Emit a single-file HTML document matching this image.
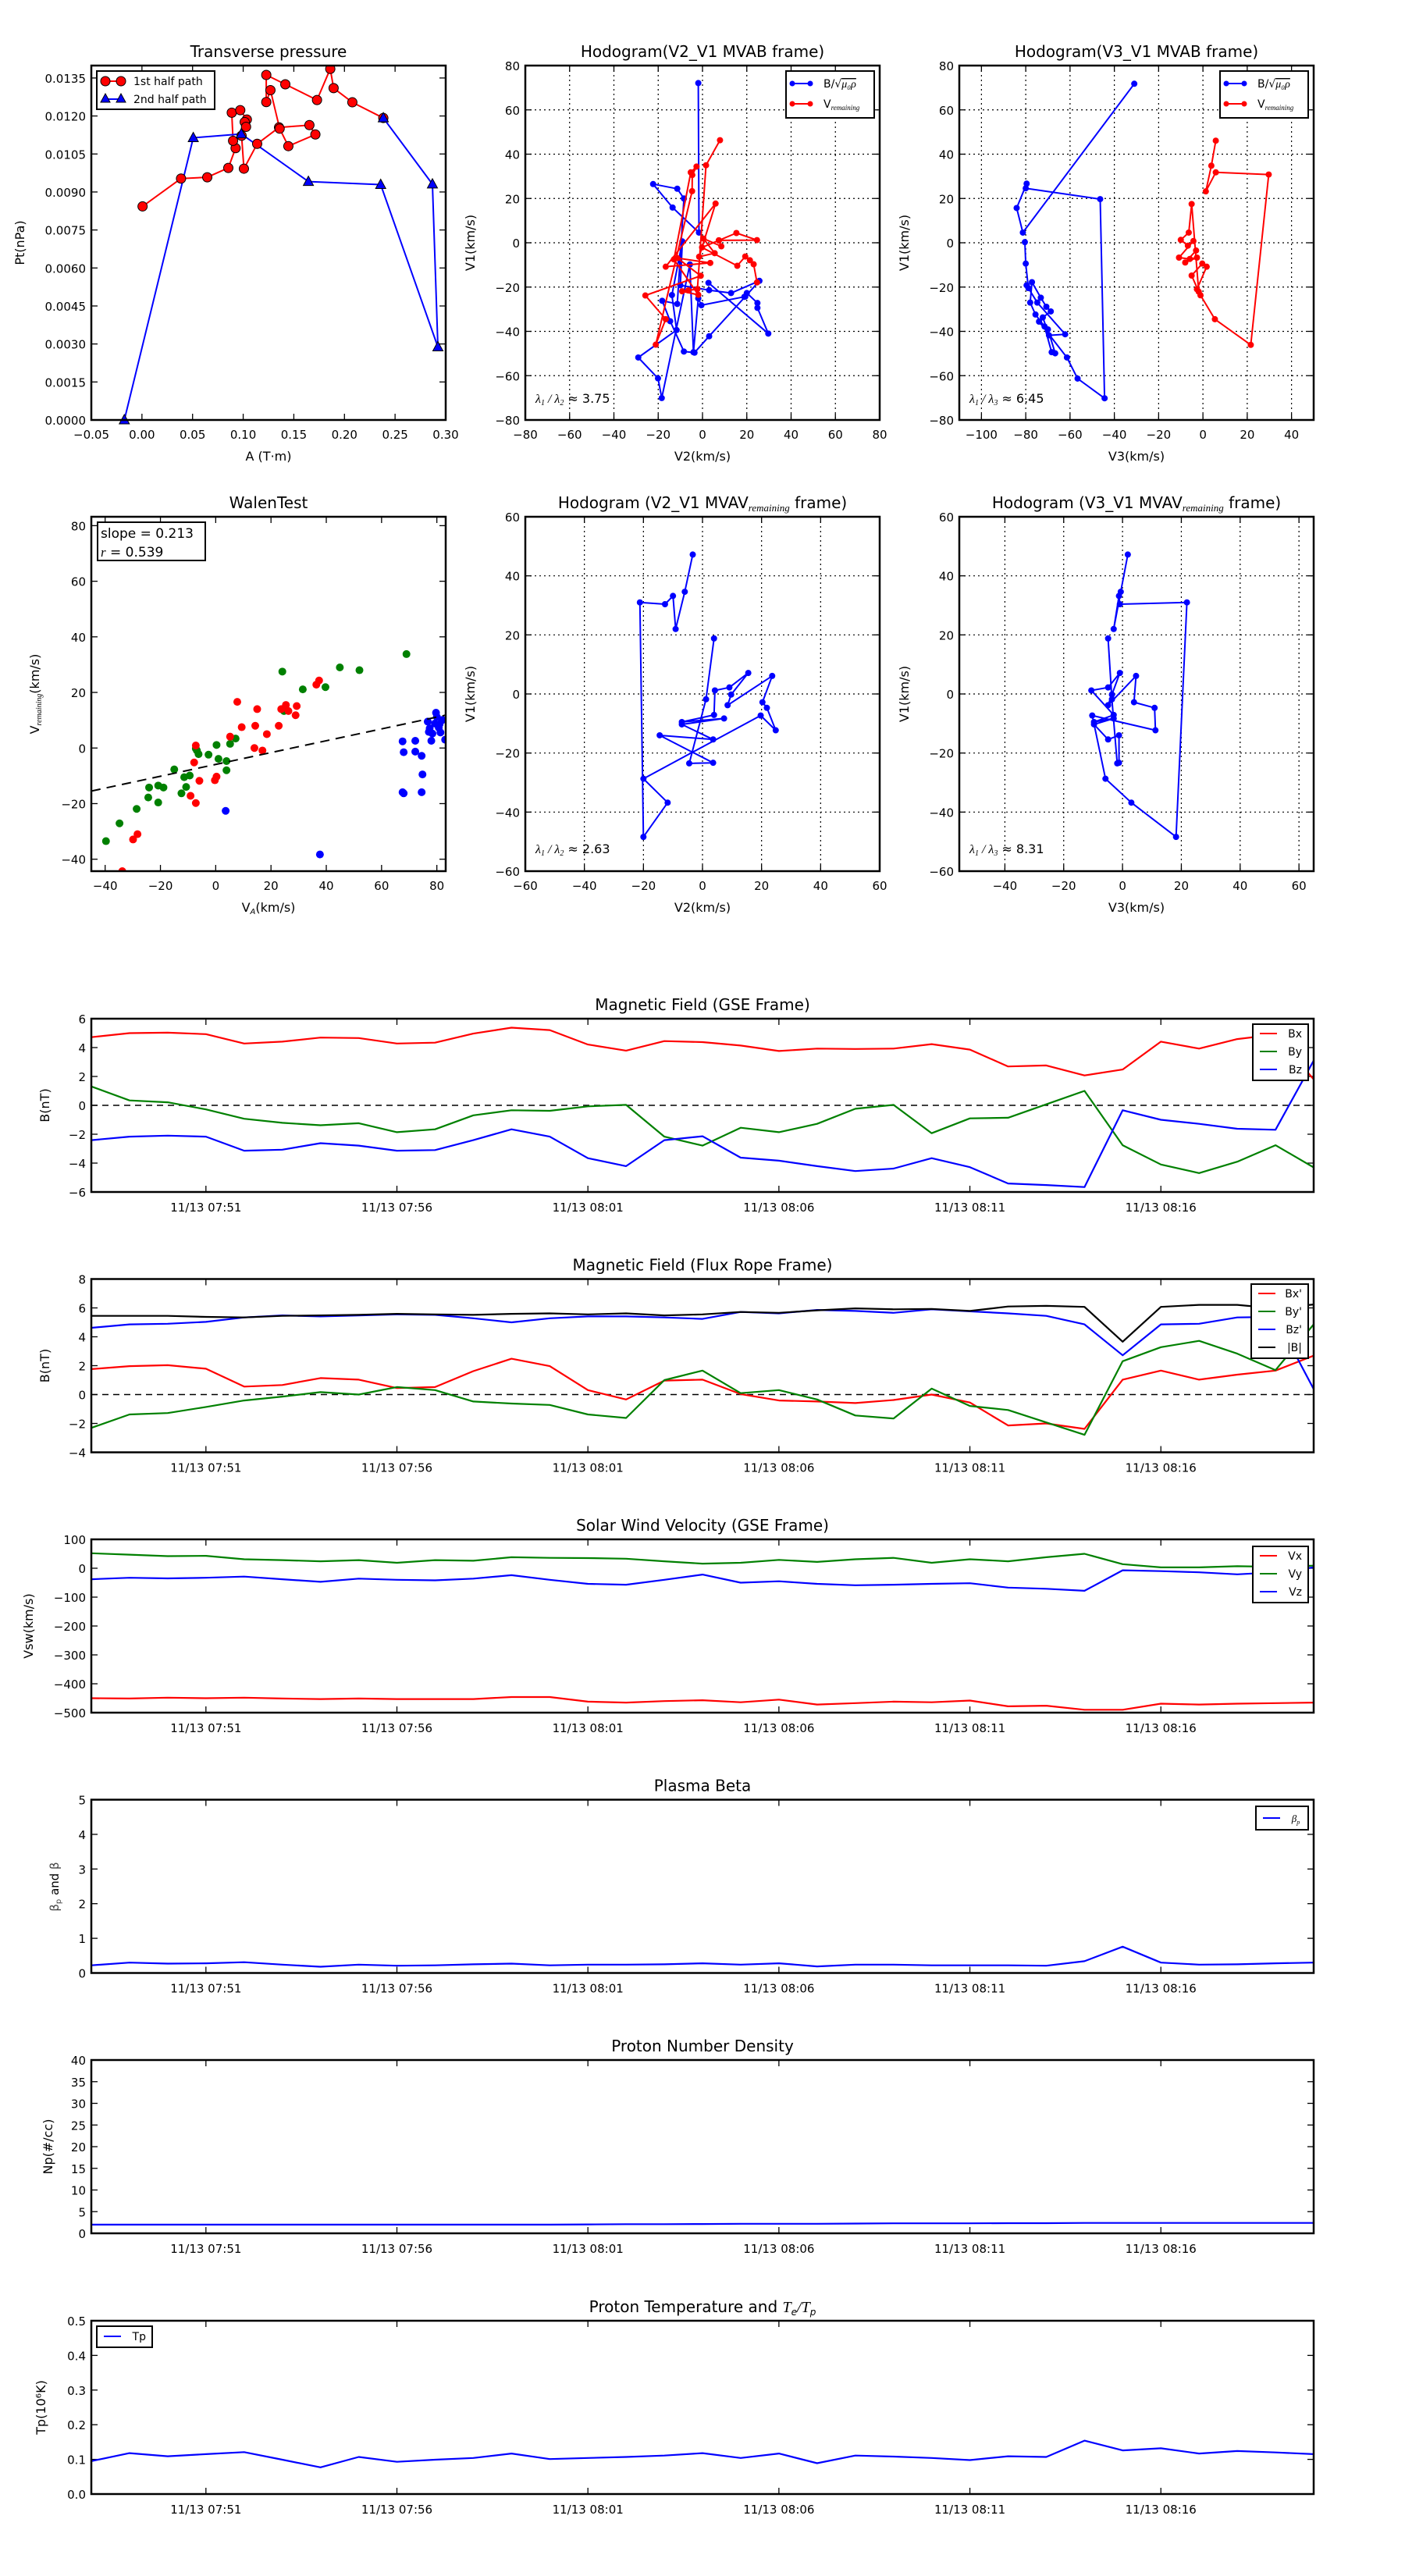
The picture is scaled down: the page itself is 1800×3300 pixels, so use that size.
<!DOCTYPE html>
<html><head><meta charset="utf-8"><style>
html,body{margin:0;padding:0;background:#fff}
svg{display:block;font-family:"DejaVu Sans","Liberation Sans",sans-serif}
</style></head><body>
<svg id="fig" xmlns="http://www.w3.org/2000/svg" width="1800" height="3300" viewBox="0 0 1800 3300"></svg>
<script>
// ---------- DATA ----------
const ptRedA=[0.0006,0.0386,0.0645,0.0853,0.0925,0.0900,0.0887,0.0971,0.1036,0.1015,0.1028,0.0984,0.1007,0.1138,0.1354,0.1654,0.1713,0.1446,0.1360,0.1269,0.1228,0.1228,0.1416,0.1729,0.1860,0.1893,0.2078,0.2384];
const ptRedP=[0.00843,0.00953,0.00958,0.00995,0.01073,0.01102,0.01213,0.01223,0.01186,0.01176,0.01157,0.01122,0.00992,0.0109,0.01155,0.01164,0.01127,0.01081,0.01150,0.01302,0.01255,0.01362,0.01325,0.01263,0.01386,0.0131,0.01254,0.01192];
const ptBlueA=[-0.0174,0.0507,0.0981,0.1644,0.2358,0.2923,0.2869,0.2384];
const ptBlueP=[0,0.01114,0.01129,0.00941,0.00929,0.00288,0.00931,0.01192];

const h1BlueX=[-1.9,-1.6,-13.5,-22.3,-11.4,-8.4,-11.4,-18.2,-14.6,-8.4,-3.6,3,19.3,25.7,12.9,3,-10,-9.1,-13.8,-11.7,-29,-20.1,-18.4,-5.7,-4.1,-1.9,-0.5,18.9,20,24.8,24.8,29.7,2.7];
const h1BlueY=[72.1,4.6,15.9,26.5,24.4,20,-27.6,-26.2,-35.4,-49.1,-49.6,-42.2,-24.3,-17.2,-22.7,-21.4,-19.2,0.6,-23.6,-39.4,-51.8,-61.2,-70.1,-9.8,-49.4,-25.1,-28.2,-24.4,-22.7,-27.2,-29.4,-41,-18.1];
const h1RedX=[7.9,1.6,-2.3,-6.4,-9.2,-1.9,-12.9,-5.3,-2.7,-4.6,-4.7,-21.1,-16.6,-25.8,-0.8,-11.4,3.5,-16.6,5.9,-1.5,5.5,0.4,8.5,7.4,15.3,24.6,7.4,-0.2,15.7,19.3,21.4,23.1,24.6];
const h1RedY=[46.3,35,-20.9,-21.5,-21.9,-23.5,-7.5,31.8,34.4,30.6,23.3,-46,-34.5,-23.8,-14.9,-6.9,-9.1,-10.8,17.7,-6.3,-4.7,1.9,-1.6,1.1,4.4,1.2,1.1,-2.1,-10.4,-6.2,-7.9,-9.7,-17.9];

const h2BlueX=[-31,-81.3,-84.1,-79.6,-80,-46.4,-44.4,-56.6,-61.4,-74,-70,-66.7,-68.3,-71.5,-75.6,-78,-77.2,-73.2,-70.7,-68.7,-72.3,-69.5,-62.2,-74.8,-79.6,-78.8,-80,-80.4];
const h2BlueY=[71.8,4.6,15.7,26.7,24.6,19.7,-70.2,-61.3,-51.8,-35.6,-39.1,-49.9,-49.4,-37.8,-32.4,-27,-17.8,-24.8,-28.9,-31,-33.7,-41.8,-41.3,-27,-19.2,-20.5,-9.4,0.3];
const h2RedX=[5.8,3.8,1.3,5.8,29.7,21.6,5.4,-1.1,-2.7,1.7,-0.3,-5.1,-1.9,-5.1,-6.4,-10,-6.8,-4.3,-10.8,-5.9,-2.7,-8,-3.1];
const h2RedY=[46.1,34.8,23.2,31.8,30.8,-46.1,-34.5,-23.7,-21,-10.8,-9.4,-14.8,-22.1,17.5,4.6,1.3,-1.3,0.8,-6.7,-7.3,-6.7,-8.9,-3.5];

const walenGreenX=[-39.7,-34.8,-28.6,-24.4,-24.1,-20.8,-20.8,-18.9,-15.0,-12.4,-11.4,-9.4,-10.7,-6.8,-7.2,-6.2,-2.6,0.3,1.0,3.9,3.9,5.2,7.2,24.1,24.7,31.5,39.7,44.9,52.0,69.0];
const walenGreenY=[-33.5,-27.1,-21.9,-17.8,-14.2,-19.6,-13.5,-14.2,-7.7,-16.3,-10.5,-9.9,-14.0,-0.9,-0.2,-2.2,-2.4,1.1,-3.9,-8.0,-4.7,1.5,3.4,27.5,13.3,21.1,21.9,29.0,28.0,33.8];
const walenRedX=[-33.8,-29.9,-28.3,-9.1,-7.2,-7.8,-7.2,-5.9,-0.3,0.3,5.2,7.8,9.4,14.0,14.3,15.0,16.9,18.5,22.8,23.7,25.4,26.3,28.9,29.3,36.4,37.4];
const walenRedY=[-44.3,-32.9,-31.0,-17.2,-19.8,-5.2,0.9,-11.8,-11.6,-10.3,4.1,16.6,7.5,0,8.0,14.0,-0.9,5.0,8.0,14.0,15.5,13.3,11.8,15.1,22.8,24.3];
const walenBlueX=[3.6,37.7,67.6,68,67.6,68,72.2,72.2,74.5,74.8,74.5,76.7,77.1,78,78.4,79.7,80,81,81.3,82,83,77.4,79.3,80.7];
const walenBlueY=[-22.6,-38.3,2.4,-1.5,-15.9,-16.3,2.6,-1.3,-2.8,-9.5,-15.9,9.5,5.8,2.6,5.2,12.7,11.2,8.6,5.6,10.1,3,7.1,8.8,7.3];
const walenFit=[0.213,-5.9];

const h3X=[-3.3,-6,-9.1,-10,-12.7,-21.2,-20,-11.8,-20,19.7,24.8,21.8,20.3,23.6,8.5,9.7,15.5,9.1,4.2,3.9,-7,7.3,-7,3.6,-14.5,3.6,-4.5,1.2,3.9];
const h3Y=[47.2,34.6,22,33.2,30.4,31,-48.4,-36.8,-28.7,-7.3,-12.3,-4.7,-2.8,6.1,-3.8,-0.2,7.1,2.2,1.2,-7.1,-9.5,-8.3,-10.3,-15.4,-14,-23.3,-23.5,-1.8,18.8];
const h4X=[1.8,-0.6,-3,-1.2,-0.9,21.9,18.2,3,-5.8,-10.3,11.2,10.9,3.9,4.6,-4.9,-3.6,-0.9,-4.9,-10.6,-3,-9.7,-3,-9.7,-4.9,-1.2,-1.2,-1.8,-3.6,-4.9];
const h4Y=[47.2,34.6,22,33.2,30.4,31,-48.4,-36.8,-28.7,-7.3,-12.3,-4.7,-2.8,6.1,-3.8,-0.2,7.1,2.2,1.2,-7.1,-9.5,-8.3,-10.3,-15.4,-14,-23.3,-23.5,-1.8,18.8];

const timeTicks=["11/13 07:51","11/13 07:56","11/13 08:01","11/13 08:06","11/13 08:11","11/13 08:16"];
const timeTickMin=[3,8,13,18,23,28];
const bx=[4.72,5.0,5.03,4.93,4.28,4.41,4.69,4.66,4.28,4.34,4.97,5.38,5.21,4.21,3.79,4.45,4.38,4.14,3.76,3.93,3.9,3.93,4.24,3.86,2.69,2.76,2.07,2.48,4.41,3.93,4.59,4.9,1.8];
const by=[1.31,0.34,0.21,-0.28,-0.93,-1.21,-1.38,-1.24,-1.86,-1.66,-0.69,-0.34,-0.38,-0.07,0.03,-2.17,-2.79,-1.55,-1.86,-1.28,-0.24,0.03,-1.93,-0.9,-0.86,0.07,1.0,-2.76,-4.1,-4.69,-3.9,-2.76,-4.3];
const bz=[-2.41,-2.17,-2.1,-2.17,-3.14,-3.07,-2.62,-2.79,-3.14,-3.1,-2.41,-1.66,-2.17,-3.66,-4.21,-2.41,-2.14,-3.62,-3.83,-4.21,-4.55,-4.38,-3.66,-4.28,-5.41,-5.52,-5.66,-0.34,-1.0,-1.28,-1.62,-1.69,3.1];
const bxp=[1.76,1.97,2.03,1.79,0.55,0.66,1.14,1.03,0.45,0.52,1.62,2.48,1.97,0.31,-0.34,0.97,1.03,0.03,-0.41,-0.48,-0.59,-0.38,0,-0.55,-2.14,-2.0,-2.38,1.03,1.66,1.03,1.38,1.66,2.69];
const byp=[-2.31,-1.38,-1.28,-0.86,-0.41,-0.14,0.17,0,0.52,0.31,-0.48,-0.62,-0.72,-1.38,-1.62,1.0,1.66,0.1,0.31,-0.34,-1.45,-1.66,0.41,-0.79,-1.07,-1.93,-2.79,2.31,3.28,3.72,2.83,1.69,4.86];
const bzp=[4.62,4.86,4.9,5.03,5.34,5.48,5.41,5.48,5.55,5.52,5.28,5.0,5.28,5.41,5.41,5.34,5.24,5.72,5.62,5.86,5.79,5.66,5.9,5.76,5.62,5.45,4.86,2.72,4.86,4.9,5.34,5.38,0.38];
const btot=[5.45,5.45,5.45,5.38,5.34,5.45,5.48,5.52,5.59,5.55,5.52,5.59,5.62,5.55,5.62,5.48,5.55,5.72,5.66,5.83,5.97,5.9,5.93,5.79,6.1,6.14,6.07,3.66,6.07,6.21,6.21,5.97,6.24];
const vx=[-450,-451,-448,-450,-448,-451,-453,-451,-453,-453,-453,-446,-446,-462,-465,-460,-457,-464,-455,-472,-467,-462,-464,-458,-478,-476,-490,-490,-469,-472,-469,-467,-465];
const vy=[52,47,42,43,31,28,24,28,19,28,26,38,36,35,33,24,16,19,29,22,31,36,19,31,24,38,50,14,3,3,7,5,9];
const vz=[-38,-33,-35,-33,-29,-38,-47,-36,-40,-42,-36,-24,-40,-54,-57,-40,-22,-50,-45,-54,-59,-57,-54,-52,-67,-71,-78,-7,-10,-14,-21,-14,3];
const beta=[0.22,0.3,0.27,0.28,0.31,0.24,0.18,0.24,0.21,0.22,0.25,0.27,0.22,0.24,0.24,0.25,0.28,0.24,0.28,0.19,0.24,0.24,0.22,0.22,0.22,0.21,0.34,0.76,0.3,0.24,0.25,0.28,0.3];
const dens=[2.0,2.0,2.0,2.0,2.0,2.0,2.0,2.0,2.0,2.0,2.0,2.0,2.0,2.05,2.1,2.1,2.15,2.2,2.2,2.2,2.25,2.3,2.3,2.3,2.35,2.35,2.4,2.4,2.4,2.4,2.4,2.4,2.4];
const temp=[0.095,0.118,0.109,0.115,0.121,0.099,0.077,0.107,0.093,0.099,0.104,0.117,0.101,0.104,0.107,0.111,0.118,0.104,0.117,0.089,0.111,0.108,0.104,0.098,0.109,0.107,0.154,0.126,0.132,0.117,0.124,0.12,0.115];

// ---------- HELPERS ----------
const NS="http://www.w3.org/2000/svg";
const svg=document.getElementById('fig');
function mk(tag,attrs,parent,name){
  const el=document.createElementNS(NS,tag);
  for(const k in attrs) el.setAttribute(k,attrs[k]);
  
  
  (parent||svg).appendChild(el);
  return el;
}
function txt(x,y,s,size,anchor,parent,name,extra){
  const a={x:x,y:y,'font-size':size,'text-anchor':anchor||'middle',fill:'#000'};
  if(extra) for(const k in extra) a[k]=extra[k];
  const t=mk('text',a,parent,name);
  t.textContent=s;
  return t;
}
function fmt(v,d){const s=Math.abs(v).toFixed(d);return (v<-1e-12?'\u2212':'')+s;}
function range(a,b,s){const r=[];for(let v=a;v<=b+s*1e-6;v+=s)r.push(Math.round(v/s)*s);return r;}

function axes(o){
  const g=mk('g',{},svg,o.name);
  const sx=v=>o.L+(v-o.xmin)/(o.xmax-o.xmin)*o.W;
  const sy=v=>o.T+o.H-(v-o.ymin)/(o.ymax-o.ymin)*o.H;
  const inner=mk('g',{},g,o.name+'-plot-area');
  // grid
  if(o.grid){
    o.xt.forEach(v=>{const X=sx(v);mk('line',{x1:X,x2:X,y1:o.T,y2:o.T+o.H,stroke:'#000','stroke-width':1.2,'stroke-dasharray':'2,4'},inner,'x-grid-line');});
    o.yt.forEach(v=>{const Y=sy(v);mk('line',{x1:o.L,x2:o.L+o.W,y1:Y,y2:Y,stroke:'#000','stroke-width':1.2,'stroke-dasharray':'2,4'},inner,'y-grid-line');});
  }
  // ticks
  const tk=mk('g',{stroke:'#000','stroke-width':1.3},g,'ticks');
  o.xt.forEach((v,i)=>{const X=sx(v);
    mk('line',{x1:X,x2:X,y1:o.T+o.H,y2:o.T+o.H-8},tk,'x-tick');
    mk('line',{x1:X,x2:X,y1:o.T,y2:o.T+8},tk,'x-tick-top');
    txt(X,o.T+o.H+(o.xlabOff||24),o.xl[i],o.fs||16,'middle',g,'x-tick-label');});
  o.yt.forEach((v,i)=>{const Y=sy(v);
    mk('line',{x1:o.L,x2:o.L+8,y1:Y,y2:Y},tk,'y-tick');
    mk('line',{x1:o.L+o.W,x2:o.L+o.W-8,y1:Y,y2:Y},tk,'y-tick-right');
    txt(o.L-7,Y+6,o.yl[i],o.fs||16,'end',g,'y-tick-label');});
  if(o.title) txt(o.L+o.W/2,o.T-11,o.title,20,'middle',g,'chart-title');
  if(o.xlabel) txt(o.L+o.W/2,o.T+o.H+52,o.xlabel,16,'middle',g,'x-axis-title');
  if(o.ylabel){const yx=o.ylx, yy=o.T+o.H/2;
    txt(yx,yy,o.ylabel,16,'middle',g,'y-axis-title',{transform:'rotate(-90 '+yx+' '+yy+')'});}
  return {g,sx,sy,inner,o};
}
function frame(ax){const o=ax.o;mk('rect',{x:o.L,y:o.T,width:o.W,height:o.H,fill:'none',stroke:'#000','stroke-width':2.5},ax.g,'axes-frame');}
function clip(ax,id){const o=ax.o;const c=mk('clipPath',{id:id},svg,'clip');mk('rect',{x:o.L,y:o.T,width:o.W,height:o.H},c,'clip-rect');
  const g=mk('g',{'clip-path':'url(#'+id+')'},ax.g,'series-layer');return g;}
function polyline(ax,g,xs,ys,color,w,name){
  const pts=xs.map((x,i)=>ax.sx(x).toFixed(1)+','+ax.sy(ys[i]).toFixed(1)).join(' ');
  return mk('polyline',{points:pts,fill:'none',stroke:color,'stroke-width':w,'stroke-linejoin':'round'},g,name);
}
function dots(ax,g,xs,ys,color,r,name,stroke){
  xs.forEach((x,i)=>{const c=mk('circle',{cx:ax.sx(x),cy:ax.sy(ys[i]),r:r,fill:color},g,name);
    if(stroke){c.setAttribute('stroke','#000');c.setAttribute('stroke-width',1);}});
}

// ---------- PANEL 1: Transverse pressure ----------
(function(){
  const xt=range(-0.05,0.30,0.05), yt=range(0,0.0135,0.0015);
  const ax=axes({name:'transverse-pressure-chart',L:117,T:84,W:454,H:454,xmin:-0.05,xmax:0.30,ymin:0,ymax:0.01399,
    xt:xt,xl:xt.map(v=>fmt(v,2)),yt:yt,yl:yt.map(v=>fmt(v,4)),title:'Transverse pressure',xlabel:'A (T\u00b7m)',ylabel:'Pt(nPa)',ylx:31,fs:15});
  const g=clip(ax,'c1');
  polyline(ax,g,ptRedA,ptRedP,'#f00',2,'first-half-path-line');
  polyline(ax,g,ptBlueA,ptBlueP,'#00f',2,'second-half-path-line');
  dots(ax,g,ptRedA,ptRedP,'#f00',6,'first-half-point',true);
  ptBlueA.forEach((a,i)=>{const X=ax.sx(a),Y=ax.sy(ptBlueP[i]);
    mk('polygon',{points:(X)+','+(Y-7)+' '+(X-6.5)+','+(Y+5)+' '+(X+6.5)+','+(Y+5),fill:'#00f',stroke:'#000','stroke-width':1},ax.g,'second-half-point');});
  frame(ax);
  const lg=mk('g',{},ax.g,'legend');
  mk('rect',{x:124,y:91,width:151,height:49,fill:'#fff',stroke:'#000','stroke-width':2},lg,'legend-box');
  mk('line',{x1:135,x2:155,y1:104,y2:104,stroke:'#f00','stroke-width':2},lg,'legend-line-first');
  mk('circle',{cx:135,cy:104,r:6,fill:'#f00',stroke:'#000'},lg,'legend-marker-first');
  mk('circle',{cx:155,cy:104,r:6,fill:'#f00',stroke:'#000'},lg,'legend-marker-first');
  txt(171,109,'1st half path',14,'start',lg,'legend-entry-first-half');
  mk('line',{x1:135,x2:155,y1:127,y2:127,stroke:'#00f','stroke-width':2},lg,'legend-line-second');
  mk('polygon',{points:'135,120 129,131 141,131',fill:'#00f',stroke:'#000'},lg,'legend-marker-second');
  mk('polygon',{points:'155,120 149,131 161,131',fill:'#00f',stroke:'#000'},lg,'legend-marker-second');
  txt(171,132,'2nd half path',14,'start',lg,'legend-entry-second-half');
})();

function hodoLegend(ax,x0,withRed){
  const lg=mk('g',{},ax.g,'legend');
  mk('rect',{x:x0,y:91,width:113,height:withRed?60:34,fill:'#fff',stroke:'#000','stroke-width':2},lg,'legend-box');
  mk('line',{x1:x0+8,x2:x0+31,y1:107,y2:107,stroke:'#00f','stroke-width':2},lg,'legend-line-b');
  mk('circle',{cx:x0+8,cy:107,r:3.5,fill:'#00f'},lg,'legend-marker-b');
  mk('circle',{cx:x0+31,cy:107,r:3.5,fill:'#00f'},lg,'legend-marker-b');
  const t=txt(x0+48,112,'B/\u221a',14,'start',lg,'legend-entry-b-alfven');
  const ts=document.createElementNS(NS,'tspan');ts.setAttribute('font-style','italic');ts.setAttribute('text-decoration','overline');ts.setAttribute('font-family','Liberation Serif, serif');ts.textContent='\u03bc\u2080\u03c1';t.appendChild(ts);
  if(withRed){
    mk('line',{x1:x0+8,x2:x0+31,y1:133,y2:133,stroke:'#f00','stroke-width':2},lg,'legend-line-v');
    mk('circle',{cx:x0+8,cy:133,r:3.5,fill:'#f00'},lg,'legend-marker-v');
    mk('circle',{cx:x0+31,cy:133,r:3.5,fill:'#f00'},lg,'legend-marker-v');
    const t2=txt(x0+48,138,'V',14,'start',lg,'legend-entry-v-remaining');
    const s2=document.createElementNS(NS,'tspan');s2.setAttribute('font-size','9');s2.setAttribute('font-style','italic');s2.setAttribute('font-family','Liberation Serif, serif');s2.setAttribute('dy','3');s2.textContent='remaining';t2.appendChild(s2);
  }
}
function lam(ax,x,y,a,b,val){
  const t=txt(x,y,'\u03bb',16,'start',ax.g,'eigenvalue-ratio-label',{'font-family':'Liberation Serif, serif','font-style':'italic'});
  const s1=document.createElementNS(NS,'tspan');s1.setAttribute('font-size','10');s1.setAttribute('dy','3');s1.textContent=a;t.appendChild(s1);
  const s2=document.createElementNS(NS,'tspan');s2.setAttribute('dy','-3');s2.textContent=' / \u03bb';t.appendChild(s2);
  const s3=document.createElementNS(NS,'tspan');s3.setAttribute('font-size','10');s3.setAttribute('dy','3');s3.textContent=b;t.appendChild(s3);
  const s4=document.createElementNS(NS,'tspan');s4.setAttribute('dy','-3');s4.setAttribute('font-style','normal');s4.setAttribute('font-family','DejaVu Sans, sans-serif');s4.textContent=' \u2248 '+val;t.appendChild(s4);
}

// ---------- PANEL 2 ----------
(function(){
  const t=range(-80,80,20);
  const ax=axes({name:'hodogram-v2-v1-mvab-chart',L:673,T:84,W:454,H:454,xmin:-80,xmax:80,ymin:-80,ymax:80,grid:true,
    xt:t,xl:t.map(v=>fmt(v,0)),yt:t,yl:t.map(v=>fmt(v,0)),title:'Hodogram(V2_V1 MVAB frame)',xlabel:'V2(km/s)',ylabel:'V1(km/s)',ylx:608,fs:15});
  const g=clip(ax,'c2');
  polyline(ax,g,h1BlueX,h1BlueY,'#00f',2,'b-alfven-path');
  dots(ax,g,h1BlueX,h1BlueY,'#00f',4,'b-alfven-point');
  polyline(ax,g,h1RedX,h1RedY,'#f00',2,'v-remaining-path');
  dots(ax,g,h1RedX,h1RedY,'#f00',4,'v-remaining-point');
  frame(ax);hodoLegend(ax,1007,true);lam(ax,686,516,'1','2','3.75');
})();
// ---------- PANEL 3 ----------
(function(){
  const xt=range(-100,40,20), yt=range(-80,80,20);
  const ax=axes({name:'hodogram-v3-v1-mvab-chart',L:1229,T:84,W:454,H:454,xmin:-110,xmax:50,ymin:-80,ymax:80,grid:true,
    xt:xt,xl:xt.map(v=>fmt(v,0)),yt:yt,yl:yt.map(v=>fmt(v,0)),title:'Hodogram(V3_V1 MVAB frame)',xlabel:'V3(km/s)',ylabel:'V1(km/s)',ylx:1164,fs:15});
  const g=clip(ax,'c3');
  polyline(ax,g,h2BlueX,h2BlueY,'#00f',2,'b-alfven-path');
  dots(ax,g,h2BlueX,h2BlueY,'#00f',4,'b-alfven-point');
  polyline(ax,g,h2RedX,h2RedY,'#f00',2,'v-remaining-path');
  dots(ax,g,h2RedX,h2RedY,'#f00',4,'v-remaining-point');
  frame(ax);hodoLegend(ax,1563,true);lam(ax,1242,516,'1','3','6.45');
})();
// ---------- WALEN ----------
(function(){
  const t=range(-40,80,20);
  const ax=axes({name:'walen-test-chart',L:117,T:662,W:454,H:454,xmin:-45,xmax:83.2,ymin:-44.3,ymax:83.2,
    xt:t,xl:t.map(v=>fmt(v,0)),yt:t,yl:t.map(v=>fmt(v,0)),title:'WalenTest',xlabel:'',ylabel:'',ylx:50,fs:15});
  const g=clip(ax,'c4');
  dots(ax,g,walenGreenX,walenGreenY,'#008000',5,'walen-point-green');
  dots(ax,g,walenRedX,walenRedY,'#f00',5,'walen-point-red');
  dots(ax,g,walenBlueX,walenBlueY,'#00f',5,'walen-point-blue');
  const x0=-45,x1=83.2;
  mk('line',{x1:ax.sx(x0),y1:ax.sy(walenFit[0]*x0+walenFit[1]),x2:ax.sx(x1),y2:ax.sy(walenFit[0]*x1+walenFit[1]),stroke:'#000','stroke-width':2,'stroke-dasharray':'12,8'},g,'fit-line');
  frame(ax);
  const lg=mk('g',{},ax.g,'fit-stats-box');
  mk('rect',{x:125,y:669,width:138,height:49,fill:'#fff',stroke:'#000','stroke-width':2},lg,'stats-box');
  txt(129,689,'slope = 0.213',17,'start',lg,'slope-label');
  const r=txt(129,713,'',17,'start',lg,'correlation-label');
  const ri=document.createElementNS(NS,'tspan');ri.setAttribute('font-style','italic');ri.setAttribute('font-family','Liberation Serif, serif');ri.textContent='r';r.appendChild(ri);
  const rs=document.createElementNS(NS,'tspan');rs.textContent=' = 0.539';r.appendChild(rs);
  const xl=txt(344,1168,'V',16,'middle',ax.g,'x-axis-title');
  const xs1=document.createElementNS(NS,'tspan');xs1.setAttribute('font-size','10');xs1.setAttribute('font-style','italic');xs1.setAttribute('dy','3');xs1.textContent='A';xl.appendChild(xs1);
  const xs2=document.createElementNS(NS,'tspan');xs2.setAttribute('dy','-3');xs2.textContent='(km/s)';xl.appendChild(xs2);
  const yl=txt(50,889,'V',16,'middle',ax.g,'y-axis-title',{transform:'rotate(-90 50 889)'});
  const ys1=document.createElementNS(NS,'tspan');ys1.setAttribute('font-size','10');ys1.setAttribute('font-style','italic');ys1.setAttribute('font-family','Liberation Serif, serif');ys1.setAttribute('dy','3');ys1.textContent='remaining';yl.appendChild(ys1);
  const ys2=document.createElementNS(NS,'tspan');ys2.setAttribute('dy','-3');ys2.textContent='(km/s)';yl.appendChild(ys2);
})();
function mvavTitle(ax,pre){
  const o=ax.o;const t=txt(o.L+o.W/2,o.T-11,pre,20,'middle',ax.g,'chart-title');
  const s=document.createElementNS(NS,'tspan');s.setAttribute('font-size','13');s.setAttribute('font-style','italic');s.setAttribute('font-family','Liberation Serif, serif');s.setAttribute('dy','4');s.textContent='remaining';t.appendChild(s);
  const s2=document.createElementNS(NS,'tspan');s2.setAttribute('dy','-4');s2.textContent=' frame)';t.appendChild(s2);
}
// ---------- PANEL 5 ----------
(function(){
  const t=range(-60,60,20);
  const ax=axes({name:'hodogram-v2-v1-mvav-chart',L:673,T:662,W:454,H:454,xmin:-60,xmax:60,ymin:-60,ymax:60,grid:true,
    xt:t,xl:t.map(v=>fmt(v,0)),yt:t,yl:t.map(v=>fmt(v,0)),xlabel:'V2(km/s)',ylabel:'V1(km/s)',ylx:608,fs:15});
  mvavTitle(ax,'Hodogram (V2_V1 MVAV');
  const g=clip(ax,'c5');
  polyline(ax,g,h3X,h3Y,'#00f',2,'b-alfven-path');
  dots(ax,g,h3X,h3Y,'#00f',4,'b-alfven-point');
  frame(ax);lam(ax,686,1093,'1','2','2.63');
})();
// ---------- PANEL 6 ----------
(function(){
  const xt=range(-40,60,20), yt=range(-60,60,20);
  const ax=axes({name:'hodogram-v3-v1-mvav-chart',L:1229,T:662,W:454,H:454,xmin:-55.5,xmax:65,ymin:-60,ymax:60,grid:true,
    xt:xt,xl:xt.map(v=>fmt(v,0)),yt:yt,yl:yt.map(v=>fmt(v,0)),xlabel:'V3(km/s)',ylabel:'V1(km/s)',ylx:1164,fs:15});
  mvavTitle(ax,'Hodogram (V3_V1 MVAV');
  const g=clip(ax,'c6');
  polyline(ax,g,h4X,h4Y,'#00f',2,'b-alfven-path');
  dots(ax,g,h4X,h4Y,'#00f',4,'b-alfven-point');
  frame(ax);lam(ax,1242,1093,'1','3','8.31');
})();

// ---------- TIME SERIES ----------
function tsPanel(o){
  const mins=o.series[0].v.map((_,i)=>i);
  const ax=axes({name:o.name,L:117,T:o.T,W:1566,H:222,xmin:0,xmax:32,ymin:o.ymin,ymax:o.ymax,
    xt:timeTickMin,xl:timeTicks,yt:o.yt,yl:o.yl,title:o.title,ylabel:o.ylabel,ylx:o.ylx,fs:15,xlabOff:25});
  const g=clip(ax,'c'+o.name);
  if(o.zero) mk('line',{x1:117,x2:1683,y1:ax.sy(0),y2:ax.sy(0),stroke:'#000','stroke-width':1.5,'stroke-dasharray':'8,6'},g,'zero-line');
  o.series.forEach(s=>polyline(ax,g,mins,s.v,s.c,2.2,s.n+'-line'));
  frame(ax);
  if(o.legend){
    const lg=mk('g',{},ax.g,'legend');const L=o.legend;
    mk('rect',{x:L.x,y:L.y,width:L.w,height:L.h,fill:'#fff',stroke:'#000','stroke-width':2},lg,'legend-box');
    o.series.forEach((s,i)=>{const yy=L.y+L.first+i*L.step;
      mk('line',{x1:L.x+9,x2:L.x+31,y1:yy,y2:yy,stroke:s.c,'stroke-width':2},lg,'legend-line');
      txt(L.x+L.w-8,yy+5,s.label,14,'end',lg,'legend-entry-'+s.n);});
  }
  return ax;
}
tsPanel({name:'magnetic-field-gse-chart',T:1305,ymin:-6,ymax:6,yt:range(-6,6,2),yl:range(-6,6,2).map(v=>fmt(v,0)),title:'Magnetic Field (GSE Frame)',ylabel:'B(nT)',ylx:63,zero:true,
  series:[{v:bx,c:'#f00',n:'bx',label:'Bx'},{v:by,c:'#008000',n:'by',label:'By'},{v:bz,c:'#00f',n:'bz',label:'Bz'}],
  legend:{x:1605,y:1312,w:71,h:72,first:12,step:23}});
tsPanel({name:'magnetic-field-flux-rope-chart',T:1638.5,ymin:-4,ymax:8,yt:range(-4,8,2),yl:range(-4,8,2).map(v=>fmt(v,0)),title:'Magnetic Field (Flux Rope Frame)',ylabel:'B(nT)',ylx:63,zero:true,
  series:[{v:bxp,c:'#f00',n:'bx-prime',label:"Bx'"},{v:byp,c:'#008000',n:'by-prime',label:"By'"},{v:bzp,c:'#00f',n:'bz-prime',label:"Bz'"},{v:btot,c:'#000',n:'b-total',label:'|B|'}],
  legend:{x:1603,y:1645,w:73,h:95,first:12,step:23}});
tsPanel({name:'solar-wind-velocity-chart',T:1972,ymin:-500,ymax:100,yt:range(-500,100,100),yl:range(-500,100,100).map(v=>fmt(v,0)),title:'Solar Wind Velocity (GSE Frame)',ylabel:'Vsw(km/s)',ylx:42,
  series:[{v:vx,c:'#f00',n:'vx',label:'Vx'},{v:vy,c:'#008000',n:'vy',label:'Vy'},{v:vz,c:'#00f',n:'vz',label:'Vz'}],
  legend:{x:1605,y:1981,w:71,h:72,first:12,step:23}});
const bAx=tsPanel({name:'plasma-beta-chart',T:2305.5,ymin:0,ymax:5,yt:range(0,5,1),yl:range(0,5,1).map(v=>fmt(v,0)),title:'Plasma Beta',ylabel:'',ylx:75,
  series:[{v:beta,c:'#00f',n:'beta-p',label:''}],legend:{x:1609,y:2314,w:67,h:30,first:15,step:23}});
(function(){const t=txt(1660,2334,'\u03b2',13,'middle',bAx.g,'legend-entry-beta-p',{'font-style':'italic','font-family':'Liberation Serif, serif'});
  const s=document.createElementNS(NS,'tspan');s.setAttribute('font-size','8');s.setAttribute('dy','3');s.textContent='p';t.appendChild(s);
  const yl=txt(75,2417,'\u03b2',15,'middle',bAx.g,'y-axis-title',{transform:'rotate(-90 75 2417)',fill:'#444'});
  const a=document.createElementNS(NS,'tspan');a.setAttribute('font-size','10');a.setAttribute('dy','3');a.textContent='p';yl.appendChild(a);
  const b=document.createElementNS(NS,'tspan');b.setAttribute('dy','-3');b.setAttribute('fill','#000');b.textContent=' and ';yl.appendChild(b);
  const c=document.createElementNS(NS,'tspan');c.textContent='\u03b2';yl.appendChild(c);})();
tsPanel({name:'proton-density-chart',T:2639,ymin:0,ymax:40,yt:range(0,40,5),yl:range(0,40,5).map(v=>fmt(v,0)),title:'Proton Number Density',ylabel:'Np(#/cc)',ylx:67,
  series:[{v:dens,c:'#00f',n:'np',label:''}]});
const tAx=tsPanel({name:'proton-temperature-chart',T:2973,ymin:0,ymax:0.5,yt:range(0,0.5,0.1),yl:range(0,0.5,0.1).map(v=>fmt(v,1)),title:'',ylabel:'Tp(10\u2076K)',ylx:58,
  series:[{v:temp,c:'#00f',n:'tp',label:'Tp'}],legend:{x:124,y:2980,w:71,h:27,first:13,step:23}});
(function(){const t=txt(900,2962,'Proton Temperature and ',20,'middle',tAx.g,'chart-title');
  const s=document.createElementNS(NS,'tspan');s.setAttribute('font-style','italic');s.setAttribute('font-family','Liberation Serif, serif');s.textContent='T';t.appendChild(s);
  const s1=document.createElementNS(NS,'tspan');s1.setAttribute('font-size','12');s1.setAttribute('font-style','italic');s1.setAttribute('dy','4');s1.textContent='e';t.appendChild(s1);
  const s2=document.createElementNS(NS,'tspan');s2.setAttribute('dy','-4');s2.setAttribute('font-style','italic');s2.setAttribute('font-family','Liberation Serif, serif');s2.textContent='/T';t.appendChild(s2);
  const s3=document.createElementNS(NS,'tspan');s3.setAttribute('font-size','12');s3.setAttribute('font-style','italic');s3.setAttribute('dy','4');s3.textContent='p';t.appendChild(s3);})();
</script>
</body></html>
